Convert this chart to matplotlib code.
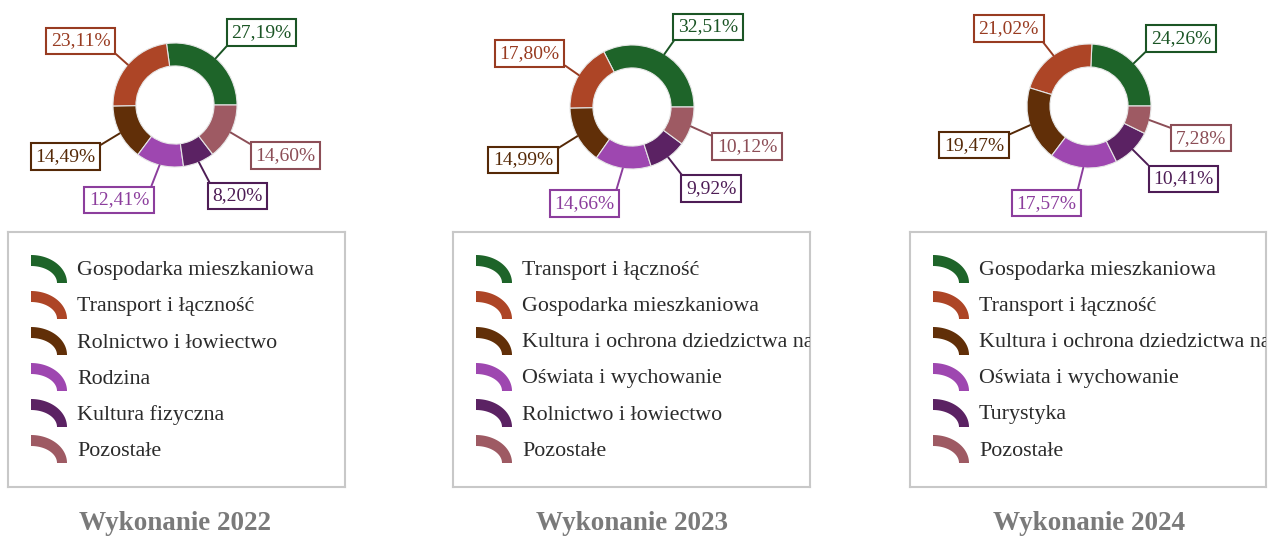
import numpy as np
import matplotlib
matplotlib.use("Agg")
import matplotlib.pyplot as plt
from matplotlib.patches import Polygon

W, H, DPI = 1279, 537, 100
SERIF = "Liberation Serif"

# ---- data -------------------------------------------------------------
years = ["2022", "2023", "2024"]

categories_2022 = ["Gospodarka mieszkaniowa", "Transport i łączność",
                   "Rolnictwo i łowiectwo", "Rodzina", "Kultura fizyczna",
                   "Pozostałe"]
values_2022 = [27.19, 23.11, 14.49, 12.41, 8.20, 14.60]

categories_2023 = ["Transport i łączność", "Gospodarka mieszkaniowa",
                   "Kultura i ochrona dziedzictwa narodowego",
                   "Oświata i wychowanie", "Rolnictwo i łowiectwo",
                   "Pozostałe"]
values_2023 = [32.51, 17.80, 14.99, 14.66, 9.92, 10.12]

categories_2024 = ["Gospodarka mieszkaniowa", "Transport i łączność",
                   "Kultura i ochrona dziedzictwa narodowego",
                   "Oświata i wychowanie", "Turystyka", "Pozostałe"]
values_2024 = [24.26, 21.02, 19.47, 17.57, 10.41, 7.28]

slice_colors = ["#1e6429", "#ad4526", "#612f08", "#9e47b0", "#5b2263", "#9e5a63"]
label_colors = ["#1b5525", "#983b21", "#552907", "#8c3e9d", "#4e1d56", "#8c4e57"]

panels = [
    (years[0], categories_2022, values_2022),
    (years[1], categories_2023, values_2023),
    (years[2], categories_2024, values_2024),
]

# ---- layout (pixels) --------------------------------------------------
centers = [(175, 105), (632, 107), (1089, 106)]
RADIUS = 62
legend_boxes = [(8, 232, 337, 255), (453, 232, 357, 255), (910, 232, 356, 255)]
title_y = 523
LABEL_PT = 14
LABEL_PAD = 0.24
PX2PT = 72 / DPI


def px_axes(fig, x0, y0, w, h):
    return fig.add_axes([x0 / W, 1 - (y0 + h) / H, w / W, h / H])


def fmt(v):
    return f"{v:.2f}".replace(".", ",") + "%"


fig = plt.figure(figsize=(W / DPI, H / DPI), dpi=DPI)
fig.patch.set_facecolor("white")

for (year, cats, vals), (cx, cy), (lx, ly, lw, lh) in zip(panels, centers, legend_boxes):
    # donut
    x0, x1, y0, y1 = cx - 200, cx + 200, 0, 225
    ax = px_axes(fig, x0, y0, x1 - x0, y1 - y0)
    wedges, _ = ax.pie(vals, colors=slice_colors, startangle=0, counterclock=True,
                       radius=1.0,
                       wedgeprops=dict(width=0.37, edgecolor="#e6e6e6", linewidth=0.8))
    ax.set_xlim((x0 - cx) / RADIUS, (x1 - cx) / RADIUS)
    ax.set_ylim((cy - y1) / RADIUS, (cy - y0) / RADIUS)
    ax.set_aspect("auto")
    ax.axis("off")

    pad_pt = LABEL_PAD * LABEL_PT
    for wdg, v, lc in zip(wedges, vals, label_colors):
        mid = np.deg2rad((wdg.theta1 + wdg.theta2) / 2)
        ux, uy = np.cos(mid), np.sin(mid)
        right = ux >= 0
        up = uy >= 0
        reach = (0.27 if up else 0.36) * RADIUS * PX2PT
        sx = 1 if right else -1
        sy = 1 if up else -1
        ax.annotate(fmt(v), xy=(ux, uy),
                    xytext=(reach * ux + sx * pad_pt, reach * uy + sy * pad_pt),
                    textcoords="offset points",
                    ha="left" if right else "right",
                    va="bottom" if up else "top",
                    fontsize=LABEL_PT, color=lc, family=SERIF,
                    bbox=dict(boxstyle=f"square,pad={LABEL_PAD}", fc="white", ec=lc, lw=1.5),
                    arrowprops=dict(arrowstyle="-", color=lc, lw=1.4,
                                    shrinkA=0, shrinkB=0,
                                    relpos=(0 if right else 1, 0 if up else 1)),
                    annotation_clip=False)

    # legend box
    lax = px_axes(fig, lx, ly, lw, lh)
    lax.set_xlim(0, lw)
    lax.set_ylim(lh, 0)
    lax.set_xticks([])
    lax.set_yticks([])
    for sp in lax.spines.values():
        sp.set_color("#c8c8c8")
        sp.set_linewidth(1.5)

    t = np.linspace(0, np.pi / 2, 40)
    for k, (cat, col) in enumerate(zip(cats, slice_colors)):
        bx, by = 23, 51 + 36 * k
        outer = np.column_stack([bx + 36 * np.cos(t), by - 28 * np.sin(t)])
        inner = np.column_stack([bx + 26 * np.cos(t[::-1]), by - 17 * np.sin(t[::-1])])
        lax.add_patch(Polygon(np.vstack([outer, inner]), closed=True,
                              facecolor=col, edgecolor="none"))
        lax.text(69, by - 12, cat, ha="left", va="center", fontsize=15.8,
                 family=SERIF, color="#2b2b2b", clip_on=True)

    fig.text(cx / W, 1 - title_y / H, f"Wykonanie {year}", ha="center", va="center",
             fontsize=19.5, fontweight="bold", color="#7a7a7a", family=SERIF)

fig.savefig("out.png", dpi=DPI, facecolor="white")
